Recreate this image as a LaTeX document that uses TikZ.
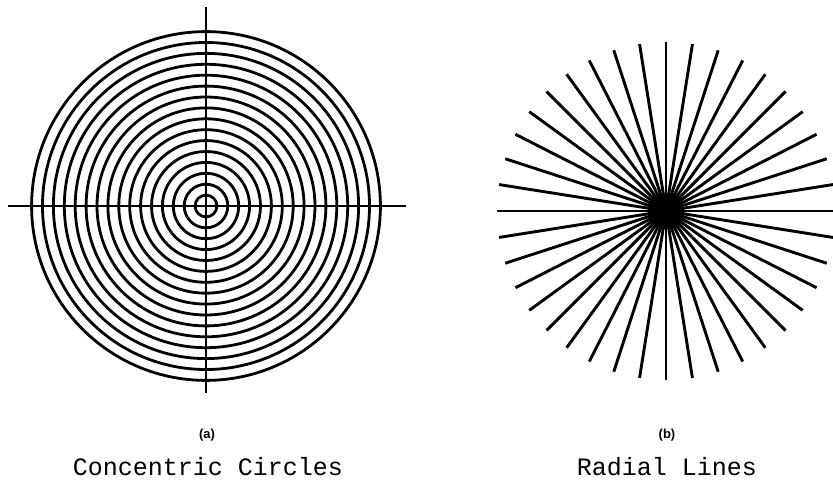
\documentclass[tikz,border=0pt]{standalone}
\usepackage{fontspec}
\newfontfamily\typefont{Liberation Mono}
\newfontfamily\tagfont{Liberation Sans}
\usetikzlibrary{positioning,calc}

\begin{document}
\begin{tikzpicture}[x=1pt,y=-1pt,
  ring/.style={line width=2.8pt},
  spoke/.style={line width=2.9pt},
  axis/.style={line width=2pt},
  tag/.style={font=\tagfont\bfseries\fontsize{13}{15}\selectfont},
  caption/.style={font=\typefont\fontsize{25}{29}\selectfont}
]
\useasboundingbox (0,0) rectangle (833,486);
\coordinate (cc) at (206,206);
\coordinate (rc) at (666,211);
\coordinate (axtop) at (206,7);
\coordinate (axbot) at (206,393);
\coordinate (axleft) at (8,206);
\coordinate (axright) at (406,206);
\foreach \r in {1,...,16}
  \draw[ring] (cc) circle[radius=10.9*\r];
\draw[axis] (axtop) -- (axbot);
\draw[axis] (axleft) -- (axright);
\foreach \a in {0,9,...,351}
  \draw[spoke] (rc) -- ++(\a:169);
\fill (rc) circle[radius=18];
\node[tag] (taga) at (207,435) {(a)};
\node[tag] (tagb) at (667,435) {(b)};
\node[caption] (capa) at (208,467) {Concentric Circles};
\node[caption] (capb) at (667,467) {Radial Lines};
\end{tikzpicture}
\end{document}
